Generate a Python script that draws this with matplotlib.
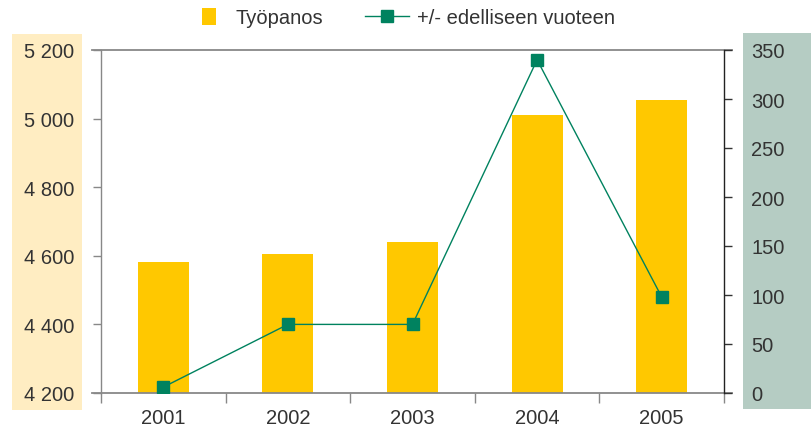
import matplotlib
matplotlib.use("Agg")
import matplotlib.pyplot as plt
from matplotlib.patches import Rectangle, Patch
from matplotlib.lines import Line2D
from matplotlib.legend_handler import HandlerPatch
from matplotlib.ticker import FixedLocator, FuncFormatter

# ---- data ----
years = ["2001", "2002", "2003", "2004", "2005"]
tyopanos = [4582, 4605, 4640, 5010, 5054]
muutos = [6, 70, 70, 340, 98]
left_ticks = [4200, 4400, 4600, 4800, 5000, 5200]
right_ticks = [0, 50, 100, 150, 200, 250, 300, 350]

BAR = "#FFC800"
LINE = "#00825F"
TXT = "#333333"
FS = 14.5

plt.rcParams["font.family"] = ["Liberation Sans", "DejaVu Sans"]

W, H = 811, 427
fig = plt.figure(figsize=(W / 100, H / 100), dpi=100)

def fx(px):
    return px / W

def fy(py):
    return 1 - py / H

# background bands
fig.patches.append(Rectangle((fx(12), fy(411)), fx(82) - fx(12), fy(35) - fy(411),
                             transform=fig.transFigure, facecolor="#FFEDC2",
                             edgecolor="none", zorder=-10))
fig.patches.append(Rectangle((fx(743), fy(410)), fx(811) - fx(743), fy(34) - fy(410),
                             transform=fig.transFigure, facecolor="#B5CCC3",
                             edgecolor="none", zorder=-10))

ax = fig.add_axes([fx(101), fy(394), fx(724) - fx(101), fy(51) - fy(394)])
ax.patch.set_alpha(0)
x = list(range(len(years)))
bars = ax.bar(x, tyopanos, width=0.41, color=BAR, zorder=2, label="Työpanos")
ax.set_ylim(4200, 5200)
ax.set_xlim(-0.5, len(years) - 0.5)
ax.yaxis.set_major_locator(FixedLocator(left_ticks))
ax.yaxis.set_major_formatter(FuncFormatter(lambda v, p: f"{int(round(v)):,}".replace(",", " ")))
ax.tick_params(axis="y", direction="out", length=6, width=1, color="#888888",
               pad=13.5, labelsize=FS, labelcolor=TXT)

# x ticks: marks at category boundaries, labels at centers
ax.xaxis.set_major_locator(FixedLocator([i - 0.5 for i in range(len(years) + 1)]))
ax.xaxis.set_major_formatter(FuncFormatter(lambda v, p: ""))
ax.xaxis.set_minor_locator(FixedLocator(x))
ax.set_xticks(x, years, minor=True)
ax.tick_params(axis="x", which="major", direction="out", length=7.2, width=1, color="#888888")
ax.tick_params(axis="x", which="minor", length=0, pad=10.5, labelsize=FS, labelcolor=TXT)

for s in ["top", "bottom", "right"]:
    ax.spines[s].set_visible(False)
ax.spines["left"].set_color("#888888")
ax.spines["left"].set_linewidth(1)

# extended horizontal frame lines
ext = 8 / (724 - 101)
for yy in (0, 1):
    ax.plot([-ext * 1.08, 1 + ext], [yy, yy], transform=ax.transAxes, color="#888888",
            lw=1.3, clip_on=False, zorder=3)

ax2 = ax.twinx()
ax2.plot(x, muutos, color=LINE, lw=1.0, marker="s", markersize=9,
         markerfacecolor=LINE, markeredgecolor=LINE, zorder=4, label="+/- edelliseen vuoteen")
ax2.set_ylim(0, 350)
ax2.yaxis.set_major_locator(FixedLocator(right_ticks))
ax2.tick_params(axis="y", direction="out", length=6, width=1, color="#333333",
                pad=13.5, labelsize=FS, labelcolor=TXT)
for s in ["top", "bottom", "left"]:
    ax2.spines[s].set_visible(False)
ax2.spines["right"].set_color("#222222")
ax2.spines["right"].set_linewidth(1)

# legend
def square_patch(legend, orig_handle, xdescent, ydescent, width, height, fontsize):
    w = 0.30 * width
    h = height * 1.2
    return Rectangle((width / 2 - w / 2 - xdescent + 3, -ydescent - h * 0.1), w, h)

bar_handle = Patch(facecolor=BAR, edgecolor="none")
line_handle = Line2D([], [], color=LINE, lw=1.0, marker="s", markersize=9,
                     markerfacecolor=LINE, markeredgecolor=LINE)
leg = fig.legend([bar_handle, line_handle], ["Työpanos", "+/- edelliseen vuoteen"],
                 loc="center", bbox_to_anchor=(fx(399), fy(19)), ncol=2, frameon=False,
                 fontsize=FS, handlelength=2.2, handletextpad=0.4, columnspacing=2.1,
                 handler_map={Patch: HandlerPatch(patch_func=square_patch)},
                 borderaxespad=0, borderpad=0)
for t in leg.get_texts():
    t.set_color(TXT)

fig.savefig("out.png", dpi=100)
